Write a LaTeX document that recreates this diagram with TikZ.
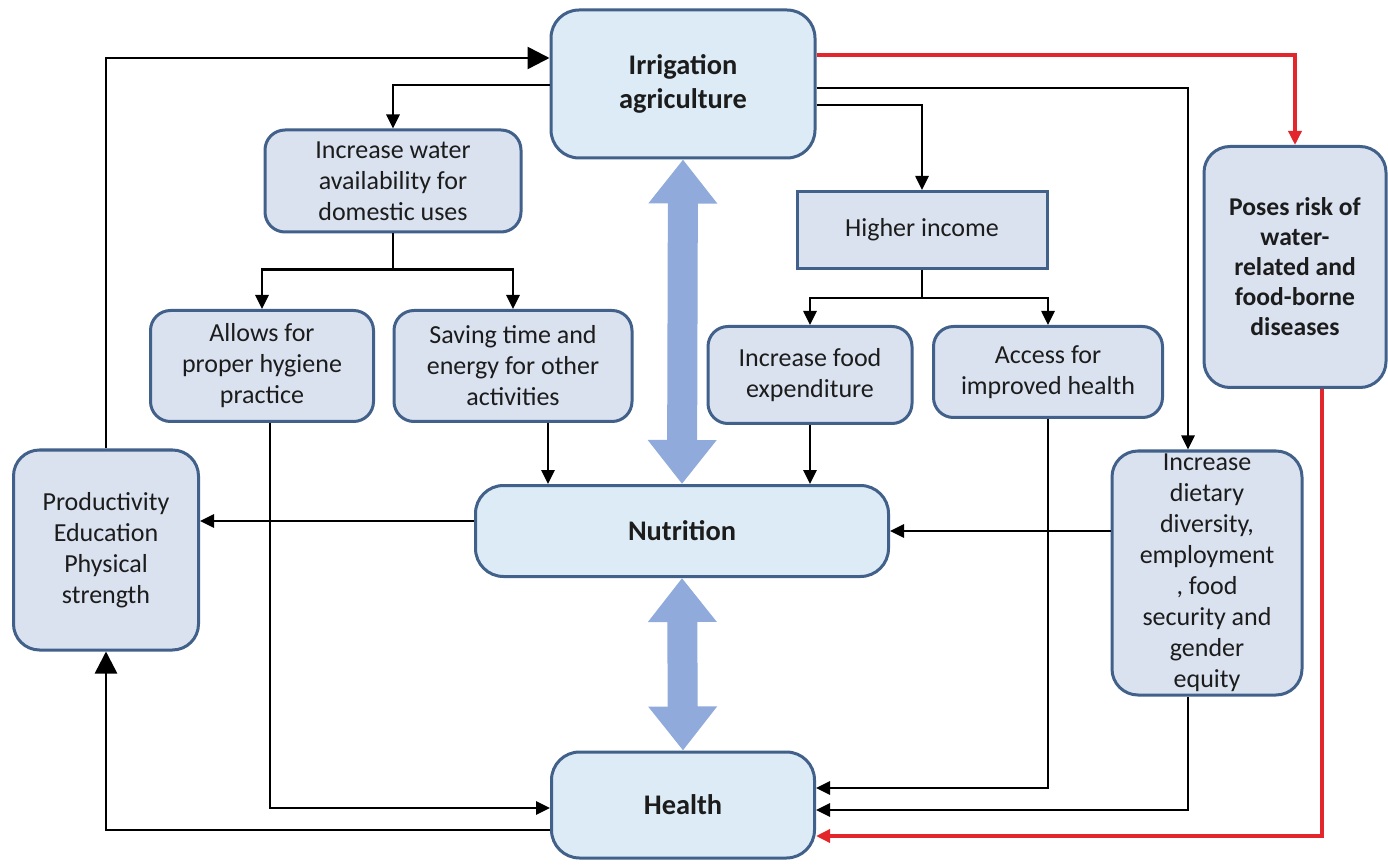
\documentclass[tikz,border=0pt]{standalone}
\usepackage{fontspec}
\setmainfont{Carlito}
\usetikzlibrary{arrows.meta}

\definecolor{boxline}{HTML}{41608A}
\definecolor{boxfill}{HTML}{DAE2F0}
\definecolor{mainfill}{HTML}{DCEBF5}
\definecolor{bigblue}{HTML}{8FAADB}
\definecolor{riskred}{HTML}{E2262B}
\definecolor{textdark}{HTML}{1C1C1C}

\begin{document}
\begin{tikzpicture}
[
	x	= 0.5pt,	% one unit is one pixel of the layout
	y	= -0.5pt,	% y grows downwards, as in the layout
	%
	%
	% ----------- options for the boxes --------------
	box/.style =
	{
		draw			= boxline,
		line width		= 1.5pt,
		fill			= boxfill,
		rounded corners	= 10pt,
		align			= center,
		text			= textdark,
		inner sep		= 1pt,
		font			= \fontsize{13}{15.5}\selectfont
	},
	%
	mainbox/.style =
	{
		box,
		fill			= mainfill,
		rounded corners	= 14pt,
		font			= \bfseries\fontsize{14.2}{17}\selectfont
	},
	%
	% ----------- options for the connectors --------------
	arr/.style =
	{
		draw,
		black,
		line width	= 1.3pt,
		-{Triangle[length=7pt, width=6.5pt]}
	},
	%
	bigtip/.style =
	{
		arr,
		-{Triangle[length=11pt, width=11pt]}
	},
	%
	redarr/.style =
	{
		arr,
		riskred,
		line width	= 1.7pt
	},
	%
	bigdouble/.style =
	{
		draw,
		bigblue,
		line width	= 15pt,
		{Triangle[length=22pt, width=33pt]}-{Triangle[length=22pt, width=33pt]}
	}
]

\useasboundingbox (0,0) rectangle (1388,866);

% boxes
\node [mainbox, minimum width = 132pt, minimum height = 74pt] (irr) at (683,84) {Irrigation\\agriculture};
\node [mainbox, minimum width = 206.5pt, minimum height = 45.5pt] (nut) at (682,531) {Nutrition};
\node [mainbox, minimum width = 131.5pt, minimum height = 53pt] (health) at (683,805) {Health};

\node [box, minimum width = 128pt, minimum height = 51pt] (water) at (393,181) {Increase water\\availability for\\domestic uses};
\node [box, rounded corners = 0pt, minimum width = 125pt, minimum height = 38.5pt] (income) at (922,230) {Higher income};
\node [box, font = \bfseries\fontsize{12.8}{15}\selectfont, rounded corners = 13pt, minimum width = 91pt, minimum height = 120.5pt] (poses) at (1295,267) {Poses risk of\\water-\\related and\\food-borne\\diseases};

\node [box, minimum width = 111.5pt, minimum height = 55.5pt] (hyg) at (262,366) {Allows for\\proper hygiene\\practice};
\node [box, minimum width = 119pt, minimum height = 55.5pt] (saving) at (513,366) {Saving time and\\energy for other\\activities};
\node [box, minimum width = 102pt, minimum height = 48.5pt] (foodexp) at (810,375) {Increase food\\expenditure};
\node [box, minimum width = 114.5pt, minimum height = 45.5pt] (access) at (1048,372) {Access for\\improved health};

\node [box, rounded corners = 13pt, minimum width = 92.5pt, minimum height = 100pt] (prod) at (106,550) {Productivity\\Education\\Physical\\strength};
\node [box, rounded corners = 13pt, minimum width = 95pt, minimum height = 122pt] (diet) at (1207,573) {Increase\\dietary\\diversity,\\employment\\, food\\security and\\gender\\equity};

% wide two-way arrows
\draw [bigdouble] (irr.south) -- (nut.north);
\draw [bigdouble] (nut.south) -- (health.north);

% from irrigation
\draw [bigtip] (prod.north) |- (irr.west |- 0,58);
\draw [arr] (irr.west |- 0,85) -| (water.north);
\draw [redarr] (irr.east |- 0,55) -| (poses.north);
\draw [arr] (irr.east |- 0,88) -| (diet.north -| 1188,0);
\draw [arr] (irr.east |- 0,105) -| (income.north);

% splits
\draw [arr] (water.south) -- ++(0,36) -| (hyg.north);
\draw [arr] (water.south) -- ++(0,36) -| (saving.north);
\draw [arr] (income.south) -- ++(0,28) -| (foodexp.north);
\draw [arr] (income.south) -- ++(0,28) -| (access.north);

% towards nutrition and health
\draw [arr] (hyg.south -| 270,0) |- (health.west |- 0,808);
\draw [arr] (saving.south -| 548,0) -- (nut.north -| 548,0);
\draw [arr] (foodexp.south) -- (nut.north -| foodexp.south);
\draw [arr] (access.south) |- (health.east |- 0,788);
\draw [arr] (diet.west |- nut.east) -- (nut.east);
\draw [arr] (diet.south -| 1188,0) |- (health.east |- 0,810);
\draw [redarr] (poses.south -| 1322,0) |- (health.east |- 0,836);

% back to productivity
\draw [arr] (nut.west |- 0,521) -- (prod.east |- 0,521);
\draw [bigtip] (health.west |- 0,830) -| (prod.south);

\end{tikzpicture}
\end{document}
